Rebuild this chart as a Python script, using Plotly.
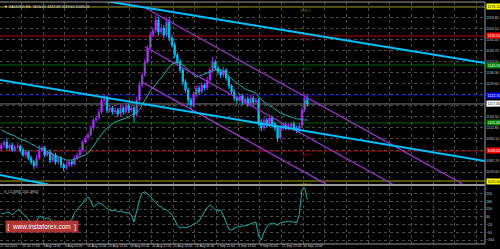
import plotly.graph_objects as go

# ---------------- data ----------------
symbol_title = "XAUUSD,H4  1120.41 1122.09 1119.61 1120.20"
cci_title = "3_CCI(90) 201.4902"
watermark = "[  www.instaforex.com  ]"

first_open = 1090.0
closes = [
    1092.4, 1094.2, 1090.6, 1092.4, 1089.4, 1091.2, 1091.8, 1089.4, 1086.4, 1088.2,
    1084.5, 1082.1, 1079.7, 1084.5, 1089.4, 1090.6, 1086.4, 1088.2, 1083.3, 1086.4,
    1082.1, 1084.5, 1080.3, 1078.5, 1080.3, 1082.1, 1080.9, 1084.5, 1086.4, 1089.4,
    1094.2, 1096.7, 1098.5, 1102.7, 1107.6, 1108.8, 1112.4, 1119.7, 1120.9, 1113.6,
    1114.9, 1112.4, 1113.6, 1111.2, 1114.9, 1112.4, 1116.1, 1113.6, 1114.9, 1110.6,
    1119.7, 1128.8, 1134.9, 1142.7, 1151.2, 1159.1, 1162.1, 1168.2, 1160.9, 1163.3,
    1159.1, 1167.0, 1157.3, 1153.0, 1147.0, 1142.7, 1137.9, 1130.6, 1125.8, 1119.7,
    1116.7, 1122.7, 1127.0, 1124.6, 1128.8, 1127.0, 1131.8, 1137.9, 1142.7, 1139.1,
    1136.7, 1134.9, 1137.9, 1133.0, 1128.2, 1124.6, 1120.9, 1119.7, 1122.1, 1118.5,
    1120.3, 1117.3, 1120.9, 1118.5, 1119.7, 1106.4, 1102.7, 1107.6, 1104.6, 1108.8,
    1105.2, 1102.7, 1096.7, 1102.7, 1104.6, 1102.7, 1104.0, 1105.2, 1102.7, 1101.5,
    1104.0, 1113.6, 1120.9, 1117.3,
]
upper_wicks = [
    1.5, 1.2, 1.8, 1.0, 1.5, 1.2, 2.0, 1.0, 1.4, 1.2,
    1.0, 1.5, 1.2, 2.0, 3.0, 1.5, 1.2, 1.0, 1.6, 1.2,
    1.4, 1.0, 1.2, 1.5, 1.8, 1.2, 1.0, 1.5, 1.2, 1.8,
    1.5, 1.2, 2.0, 1.6, 1.2, 1.8, 2.0, 2.5, 2.2, 1.5,
    1.8, 1.2, 1.6, 1.4, 2.0, 1.2, 1.8, 1.4, 1.6, 1.2,
    2.0, 2.0, 1.6, 2.0, 1.8, 2.2, 1.6, 3.0, 2.0, 2.5,
    1.8, 3.0, 2.2, 1.6, 2.0, 1.4, 1.8, 1.2, 1.6, 1.4,
    1.5, 2.0, 1.6, 1.4, 1.8, 1.2, 2.0, 1.8, 3.0, 1.4,
    1.2, 1.6, 1.8, 1.2, 1.4, 1.0, 1.6, 1.2, 1.8, 1.4,
    1.2, 1.6, 2.0, 1.2, 1.4, 1.2, 1.6, 1.8, 1.2, 1.6,
    1.4, 1.2, 1.6, 1.8, 1.2, 1.4, 1.6, 1.2, 1.4, 1.2,
    1.8, 2.2, 2.5, 1.6,
]
lower_wicks = [
    1.2, 1.5, 1.0, 1.8, 1.2, 1.4, 1.0, 1.6, 1.2, 1.8,
    1.4, 1.6, 2.0, 1.2, 1.0, 1.4, 1.6, 1.2, 1.8, 1.4,
    1.6, 1.2, 1.8, 2.0, 1.4, 1.2, 1.6, 1.0, 1.4, 1.2,
    1.0, 1.2, 1.4, 1.0, 1.2, 1.4, 1.0, 1.2, 1.6, 1.8,
    1.4, 1.6, 1.2, 1.8, 1.4, 1.6, 1.2, 1.8, 1.4, 4.5,
    1.2, 1.0, 1.4, 1.2, 1.0, 1.4, 1.6, 1.8, 2.0, 1.6,
    1.8, 1.4, 2.0, 1.6, 1.8, 1.4, 1.6, 2.0, 1.8, 3.0,
    2.5, 1.6, 1.4, 1.8, 1.2, 1.6, 1.4, 1.2, 1.6, 1.4,
    1.6, 1.8, 1.4, 1.6, 1.8, 1.6, 1.8, 2.0, 1.4, 1.8,
    1.6, 1.8, 1.4, 1.6, 1.8, 2.5, 2.0, 1.6, 1.8, 1.4,
    1.6, 1.8, 2.5, 1.4, 1.6, 1.4, 1.6, 1.8, 1.6, 1.8,
    1.2, 1.0, 1.4, 1.6,
]
ma_values = [
    1101.5, 1100.9, 1099.7, 1099.1, 1098.5, 1097.9, 1096.7, 1096.1, 1095.5, 1094.9,
    1094.2, 1093.0, 1092.4, 1091.2, 1090.6, 1090.0, 1089.4, 1088.2, 1087.6, 1087.0,
    1085.8, 1085.2, 1084.5, 1083.9, 1083.3, 1083.3, 1083.3, 1083.9, 1084.5, 1085.2,
    1085.8, 1086.4, 1087.6, 1089.4, 1091.8, 1094.2, 1096.7, 1099.1, 1100.9, 1102.7,
    1103.9, 1105.2, 1106.4, 1107.0, 1107.6, 1108.2, 1108.8, 1109.4, 1110.6, 1111.2,
    1112.4, 1113.6, 1116.7, 1119.7, 1122.7, 1125.2, 1127.0, 1129.4, 1131.2, 1133.0,
    1135.5, 1137.9, 1139.7, 1141.5, 1142.1, 1142.7, 1142.1, 1140.9, 1139.7, 1137.9,
    1136.1, 1134.9, 1133.6, 1134.2, 1134.9, 1135.5, 1136.1, 1136.7, 1137.3, 1137.9,
    1137.9, 1137.9, 1137.3, 1136.1, 1134.2, 1132.4, 1131.2, 1130.0, 1128.8, 1127.6,
    1126.4, 1125.8, 1125.2, 1124.5, 1123.9, 1121.5, 1119.7, 1118.5, 1117.3, 1116.1,
    1115.5, 1114.2, 1113.0, 1111.8, 1111.2, 1110.6, 1110.0, 1109.4, 1108.8, 1108.2,
    1108.2, 1107.6, 1107.6, 1107.6,
]
cci_values = [
    82, 73, 91, 82, 64, 91, 109, 100, 73, 55,
    27, -18, -73, 0, 55, 45, 27, 36, 27, -18,
    -45, -18, 0, -9, -18, 0, 18, 82, 109, 137,
    173, 209, 228, 191, 137, 155, 173, 164, 146, 118,
    109, 100, 109, 91, 100, 91, 82, 82, 64, 0,
    109, 200, 264, 273, 255, 237, 200, 182, 146, 137,
    118, 109, 91, 64, 18, -27, -55, -45, -55, -45,
    -36, -18, -9, 9, 55, 91, 127, 155, 137, 109,
    100, 109, 55, 0, -64, -73, -55, -45, -45, -36,
    -36, -27, -18, -9, 0, -127, -164, -91, -45, -18,
    -9, -18, -27, -9, 0, 0, 9, 0, 0, -9,
    64, 291, 309, 201.49,
]
date_labels = [
    "27 Jul 2015", "29 Jul 17:00", "3 Aug 13:00", "6 Aug 05:00", "10 Aug 21:00",
    "13 Aug 13:00", "18 Aug 05:00", "20 Aug 21:00", "25 Aug 13:00", "28 Aug 05:00",
    "1 Sep 21:00", "4 Sep 13:00", "9 Sep 05:00", "11 Sep 21:00", "16 Sep 13:00",
]
level_prices = [1176.1, 1158.5, 1140.9, 1122.7, 1105.8, 1088.8, 1070.6]
current_price = 1117.3
# trend lines: (bar_start, price_start, bar_end, price_end)
blue_trends = [
    (36.4, 1180.2, 178.6, 1142.1),
    (-0.5, 1131.8, 178.6, 1082.7),
    (-0.5, 1074.2, 21.7, 1067.0),
]
purple_channel = [
    (53.0, 1175.6, 170.1, 1069.0),
    (53.0, 1152.0, 144.6, 1068.6),
    (52.3, 1130.2, 119.9, 1068.7),
]

# ---------------- styles ----------------
level_line_colors = ["#a8a800", "#b00000", "#006400", "#0000c0", "#006400", "#b00000", "#a8a800"]
level_box_colors = ["#ffff00", "#ff0000", "#008000", "#0000ff", "#008000", "#ff0000", "#ffff00"]
level_text_colors = ["#808000", "#a00000", "#006400", "#0000a0", "#006400", "#a00000", "#b0b000"]
level_box_font = ["#000000", "#ffffff", "#ffffff", "#ffffff", "#ffffff", "#ffffff", "#000000"]
GRID = "#4a4a4a"
AXTXT = "#c8c8c8"
FONT = "Liberation Sans"

n = len(closes)
bars = list(range(n))
opens = [first_open] + closes[:-1]
highs = [max(o, c) + w for o, c, w in zip(opens, closes, upper_wicks)]
lows = [min(o, c) - w for o, c, w in zip(opens, closes, lower_wicks)]

X_RANGE = [-0.5, 178.6]
grid_x = [k * 8 - 0.5 for k in range(23)]

fig = go.Figure()
fig.add_trace(go.Candlestick(
    x=bars, open=opens, high=highs, low=lows, close=closes,
    increasing=dict(line=dict(color="#a020f0", width=1), fillcolor="#32cd32"),
    decreasing=dict(line=dict(color="#00bfff", width=1), fillcolor="#20b2aa"),
    xaxis="x", yaxis="y", hoverinfo="skip", showlegend=False,
))
fig.add_trace(go.Scatter(x=bars, y=ma_values, mode="lines",
                         line=dict(color="#20b2aa", width=1),
                         xaxis="x", yaxis="y", hoverinfo="skip", showlegend=False))
for (x0, y0, x1, y1) in purple_channel:
    fig.add_trace(go.Scatter(x=[x0, x1], y=[y0, y1], mode="lines",
                             line=dict(color="#9932cc", width=1.3),
                             xaxis="x", yaxis="y", hoverinfo="skip", showlegend=False))
for (x0, y0, x1, y1) in blue_trends:
    fig.add_trace(go.Scatter(x=[x0, x1], y=[y0, y1], mode="lines",
                             line=dict(color="#00bfff", width=2),
                             xaxis="x", yaxis="y", hoverinfo="skip", showlegend=False))
fig.add_trace(go.Scatter(x=bars, y=cci_values, mode="lines",
                         line=dict(color="#20b2aa", width=1),
                         xaxis="x2", yaxis="y2", hoverinfo="skip", showlegend=False))

shapes = []
annotations = []
for p, lc, bc, tc, fc in zip(level_prices, level_line_colors, level_box_colors,
                             level_text_colors, level_box_font):
    shapes.append(dict(type="line", xref="paper", yref="y", x0=0, x1=1, y0=p, y1=p,
                       line=dict(color=lc, width=1), layer="below"))
    annotations.append(dict(xref="paper", yref="y", x=1.0, y=p, xanchor="left",
                            xshift=1, text=f"{p:.2f}", showarrow=False,
                            font=dict(size=3.6, color=fc, family=FONT),
                            bgcolor=bc, borderpad=0.6))
    annotations.append(dict(xref="x", yref="y", x=109.5, y=p, xanchor="left",
                            yanchor="top", text=f"{p:.1f}", showarrow=False,
                            font=dict(size=3.6, color=tc, family=FONT)))
shapes.append(dict(type="line", xref="paper", yref="y", x0=0, x1=1,
                   y0=current_price, y1=current_price,
                   line=dict(color="#7a7a7a", width=1), layer="below"))
annotations.append(dict(xref="paper", yref="y", x=1.0, y=current_price, xanchor="left",
                        xshift=1, text=f"{current_price:.2f}", showarrow=False,
                        font=dict(size=3.6, color="#000000", family=FONT),
                        bgcolor="#ffffff", borderpad=0.6))

# borders / separator
SEP = (244 - 185) / 242
shapes += [
    dict(type="line", xref="paper", yref="paper", x0=0, x1=1, y0=SEP, y1=SEP,
         line=dict(color="#9a9a9a", width=2)),
    dict(type="line", xref="paper", yref="paper", x0=1, x1=1, y0=0, y1=1,
         line=dict(color="#9a9a9a", width=1)),
    dict(type="line", xref="paper", yref="paper", x0=0, x1=1, y0=1, y1=1,
         line=dict(color="#9a9a9a", width=1)),
    dict(type="line", xref="paper", yref="paper", x0=0, x1=1, y0=0, y1=0,
         line=dict(color="#9a9a9a", width=1)),
]

for k, lab in enumerate(date_labels):
    annotations.append(dict(xref="x2", yref="paper", x=k * 8 - 0.5, y=0, yshift=0.5,
                            xanchor="left", yanchor="top", text=lab, showarrow=False,
                            borderpad=0, borderwidth=0,
                            font=dict(size=3.3, color=AXTXT, family=FONT)))

annotations += [
    dict(xref="paper", yref="paper", x=0.005, y=1.0, yshift=-1, xanchor="left",
         yanchor="top", text="\u25bc " + symbol_title, showarrow=False,
         font=dict(size=3.8, color="#e0e0e0", family=FONT)),
    dict(xref="paper", yref="paper", x=0.005, y=SEP, yshift=-2.5, xanchor="left",
         yanchor="top", text=cci_title, showarrow=False,
         font=dict(size=3.8, color="#d0d0d0", family=FONT)),
    dict(xref="paper", yref="paper", x=0.01, y=0.045, xanchor="left",
         yanchor="bottom", text=watermark, showarrow=False,
         font=dict(size=6.5, color="#ffffff", family="Liberation Sans"),
         bgcolor="rgba(205,60,60,0.85)", borderpad=1.5),
]

axis_common = dict(showgrid=True, gridcolor=GRID, griddash="dot", gridwidth=1,
                   zeroline=False, showline=False, ticks="")

fig.update_layout(
    width=500, height=249,
    margin=dict(l=0, r=15, t=2, b=5),
    paper_bgcolor="#000000", plot_bgcolor="#000000",
    showlegend=False,
    xaxis=dict(domain=[0, 1], range=X_RANGE, anchor="y", tickvals=grid_x,
               showticklabels=False, rangeslider=dict(visible=False), **axis_common),
    xaxis2=dict(domain=[0, 1], range=X_RANGE, anchor="y2", matches="x",
                tickvals=grid_x, showticklabels=False, **axis_common),
    yaxis=dict(domain=[0.248, 1.0], range=[1068.8, 1179.1], side="right",
               tick0=1169.8, dtick=6.7, tickformat=".2f",
               tickfont=dict(size=3.6, color=AXTXT, family=FONT), **axis_common),
    yaxis2=dict(domain=[0, 0.236], range=[-200, 318], side="right",
                tick0=-164, dtick=70, tickformat=".0f",
                tickfont=dict(size=3.6, color=AXTXT, family=FONT), **axis_common),
    shapes=shapes,
    annotations=annotations,
)

fig.write_html("out.html")
